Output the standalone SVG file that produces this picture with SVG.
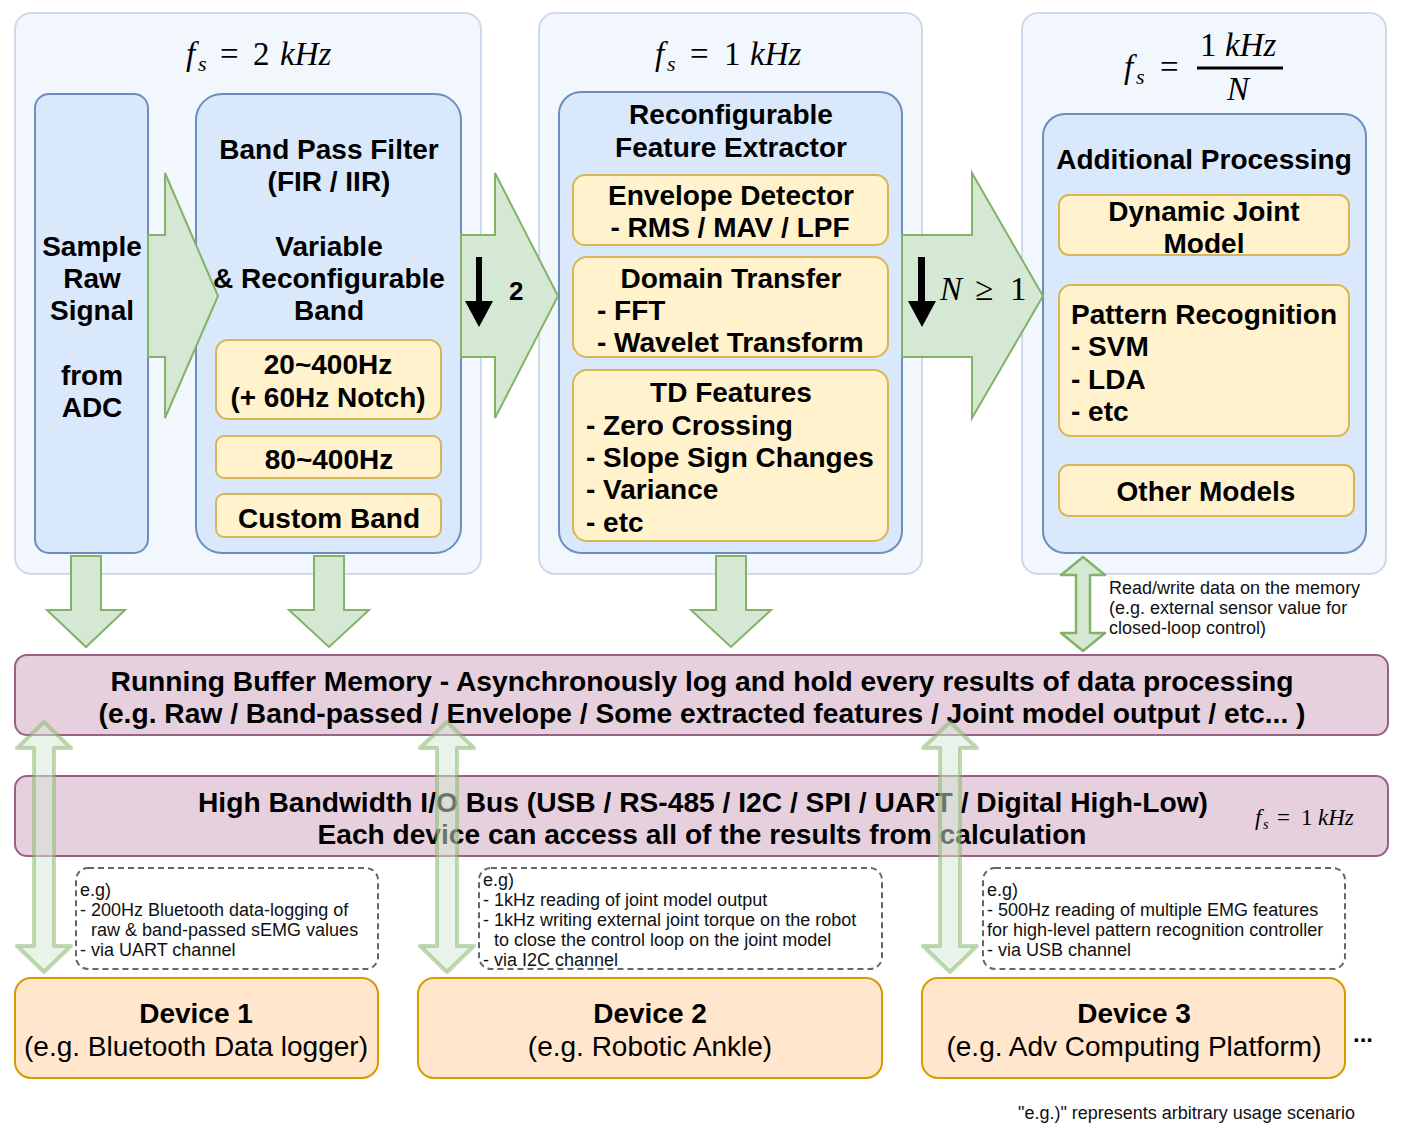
<svg xmlns="http://www.w3.org/2000/svg" width="1401" height="1124" viewBox="0 0 1401 1124">
<style>
.panel{fill:#dae8fc;fill-opacity:.35;stroke:#6c8ebf;stroke-opacity:.3;stroke-width:2}
.blue{fill:#dae8fc;stroke:#6c8ebf;stroke-width:2}
.yel{fill:#fff2cc;stroke:#d6b656;stroke-width:2}
.big{fill:#d5e8d4;stroke:#82b366;stroke-width:2}
.ghost{fill:#d5e8d4;fill-opacity:.5;stroke:#82b366;stroke-opacity:.5;stroke-width:4;stroke-linejoin:round}
.rw{fill:#d5e8d4;stroke:#82b366;stroke-width:2.5;stroke-linejoin:round}
.mem{fill:#e6d0de;stroke:#996185;stroke-width:2}
.dev{fill:#ffe6cc;stroke:#d79b00;stroke-width:2}
.dash{fill:none;stroke:#666;stroke-width:2;stroke-dasharray:6 4}
.b{font-family:"Liberation Sans",Arial,sans-serif;font-weight:bold;font-size:28px;fill:#000}
.r{font-family:"Liberation Sans",Arial,sans-serif;font-size:28px;fill:#000}
.s{font-family:"Liberation Sans",Arial,sans-serif;font-size:18px;fill:#111}
.m{font-family:"Liberation Serif","Times New Roman",serif;font-size:33px;fill:#000}
.i{font-style:italic}
.c{text-anchor:middle}
</style>

<g id="panel-2khz">
<rect class="panel" x="15" y="13" width="466" height="561" rx="16"/>
<text class="m"><tspan class="i" x="186" y="65">f</tspan><tspan class="i" x="198" y="71" style="font-size:22px">s</tspan><tspan x="220" y="65">=</tspan><tspan x="253" y="65">2</tspan><tspan class="i" x="280" y="65">kHz</tspan></text>
</g>
<g id="panel-1khz">
<rect class="panel" x="539" y="13" width="383" height="561" rx="16"/>
<text class="m"><tspan class="i" x="655" y="65">f</tspan><tspan class="i" x="667" y="71" style="font-size:22px">s</tspan><tspan x="690" y="65">=</tspan><tspan x="724" y="65">1</tspan><tspan class="i" x="750" y="65">kHz</tspan></text>
</g>
<g id="panel-n">
<rect class="panel" x="1022" y="13" width="364" height="561" rx="16"/>
<text class="m"><tspan class="i" x="1124" y="78">f</tspan><tspan class="i" x="1136" y="84" style="font-size:22px">s</tspan><tspan x="1160" y="78">=</tspan><tspan x="1200" y="56">1</tspan><tspan class="i" x="1225" y="56">kHz</tspan><tspan class="i" x="1227" y="100">N</tspan></text>
<line x1="1197" y1="68" x2="1283" y2="68" stroke="#000" stroke-width="3"/>
</g>

<g id="sample">
<rect class="blue" x="35" y="94" width="113" height="459" rx="14"/>
<text class="b c"><tspan x="92" y="256">Sample</tspan><tspan x="92" y="288">Raw</tspan><tspan x="92" y="320">Signal</tspan><tspan x="92" y="385">from</tspan><tspan x="92" y="417">ADC</tspan></text>
</g>
<g id="bpf">
<rect class="blue" x="196" y="94" width="265" height="459" rx="26"/>
<text class="b c"><tspan x="329" y="159">Band Pass Filter</tspan><tspan x="329" y="191">(FIR / IIR)</tspan><tspan x="329" y="256">Variable</tspan><tspan x="329" y="288">&amp; Reconfigurable</tspan><tspan x="329" y="320">Band</tspan></text>
</g>
<g id="band-20-400">
<rect class="yel" x="216" y="340" width="225" height="79" rx="12"/>
<text class="b c"><tspan x="328" y="374">20~400Hz</tspan><tspan x="328" y="407">(+ 60Hz Notch)</tspan></text>
</g>
<g id="band-80-400">
<rect class="yel" x="216" y="436" width="225" height="42" rx="8"/>
<text class="b c" x="329" y="469">80~400Hz</text>
</g>
<g id="band-custom">
<rect class="yel" x="216" y="494" width="225" height="43" rx="8"/>
<text class="b c" x="329" y="528">Custom Band</text>
</g>

<g id="feature-extractor">
<rect class="blue" x="559" y="92" width="343" height="461" rx="22"/>
<text class="b c"><tspan x="731" y="124">Reconfigurable</tspan><tspan x="731" y="157">Feature Extractor</tspan></text>
</g>
<g id="envelope">
<rect class="yel" x="573" y="175" width="315" height="70" rx="12"/>
<text class="b c"><tspan x="731" y="205">Envelope Detector</tspan><tspan x="730" y="237">- RMS / MAV / LPF</tspan></text>
</g>
<g id="domain">
<rect class="yel" x="573" y="257" width="315" height="100" rx="14"/>
<text class="b"><tspan class="c" x="731" y="288">Domain Transfer</tspan><tspan x="597" y="320">- FFT</tspan><tspan x="597" y="352">- Wavelet Transform</tspan></text>
</g>
<g id="td">
<rect class="yel" x="573" y="370" width="315" height="171" rx="14"/>
<text class="b"><tspan class="c" x="731" y="402">TD Features</tspan><tspan x="586" y="435">- Zero Crossing</tspan><tspan x="586" y="467">- Slope Sign Changes</tspan><tspan x="586" y="499">- Variance</tspan><tspan x="586" y="532">- etc</tspan></text>
</g>

<g id="additional">
<rect class="blue" x="1043" y="114" width="323" height="439" rx="22"/>
<text class="b c" x="1204" y="169">Additional Processing</text>
</g>
<g id="joint-model">
<rect class="yel" x="1059" y="195" width="290" height="60" rx="10"/>
<text class="b c"><tspan x="1204" y="221">Dynamic Joint</tspan><tspan x="1204" y="253">Model</tspan></text>
</g>
<g id="pattern">
<rect class="yel" x="1059" y="285" width="290" height="151" rx="12"/>
<text class="b"><tspan x="1071" y="324">Pattern Recognition</tspan><tspan x="1071" y="356">- SVM</tspan><tspan x="1071" y="389">- LDA</tspan><tspan x="1071" y="421">- etc</tspan></text>
</g>
<g id="other-models">
<rect class="yel" x="1059" y="465" width="295" height="51" rx="10"/>
<text class="b c" x="1206" y="501">Other Models</text>
</g>

<g id="buffer">
<rect class="mem" x="15" y="655" width="1373" height="80" rx="12"/>
<text class="b c"><tspan x="702" y="691" textLength="1183" lengthAdjust="spacingAndGlyphs">Running Buffer Memory - Asynchronously log and hold every results of data processing</tspan><tspan x="702" y="723" textLength="1207" lengthAdjust="spacingAndGlyphs">(e.g. Raw / Band-passed / Envelope / Some extracted features / Joint model output / etc... )</tspan></text>
</g>
<g id="bus">
<rect class="mem" x="15" y="776" width="1373" height="80" rx="12"/>
<text class="b c"><tspan x="703" y="812" textLength="1010" lengthAdjust="spacingAndGlyphs">High Bandwidth I/O Bus (USB / RS-485 / I2C / SPI / UART / Digital High-Low)</tspan><tspan x="702" y="844" textLength="769" lengthAdjust="spacingAndGlyphs">Each device can access all of the results from calculation</tspan></text>
<text class="m" style="font-size:23px"><tspan class="i" x="1255" y="825">f</tspan><tspan class="i" x="1263" y="829" style="font-size:14px">s</tspan><tspan x="1277" y="825">=</tspan><tspan x="1301" y="825">1</tspan><tspan class="i" x="1318" y="825">kHz</tspan></text>
</g>

<g id="note-1">
<rect class="dash" x="76" y="868" width="302" height="101" rx="12"/>
<text class="s"><tspan x="80" y="896">e.g)</tspan><tspan x="80" y="916">- 200Hz Bluetooth data-logging of</tspan><tspan x="91" y="936">raw &amp; band-passed sEMG values</tspan><tspan x="80" y="956">- via UART channel</tspan></text>
</g>
<g id="note-2">
<rect class="dash" x="479" y="868" width="403" height="101" rx="12"/>
<text class="s"><tspan x="483" y="886">e.g)</tspan><tspan x="483" y="906">- 1kHz reading of joint model output</tspan><tspan x="483" y="926">- 1kHz writing external joint torque on the robot</tspan><tspan x="494" y="946">to close the control loop on the joint model</tspan><tspan x="483" y="966">- via I2C channel</tspan></text>
</g>
<g id="note-3">
<rect class="dash" x="983" y="868" width="362" height="101" rx="12"/>
<text class="s"><tspan x="987" y="896">e.g)</tspan><tspan x="987" y="916">- 500Hz reading of multiple EMG features</tspan><tspan x="987" y="936">for high-level pattern recognition controller</tspan><tspan x="987" y="956">- via USB channel</tspan></text>
</g>

<g id="device-1">
<rect class="dev" x="15" y="978" width="363" height="100" rx="16"/>
<text class="c"><tspan class="b" x="196" y="1023">Device 1</tspan><tspan class="r" x="196" y="1056">(e.g. Bluetooth Data logger)</tspan></text>
</g>
<g id="device-2">
<rect class="dev" x="418" y="978" width="464" height="100" rx="16"/>
<text class="c"><tspan class="b" x="650" y="1023">Device 2</tspan><tspan class="r" x="650" y="1056">(e.g. Robotic Ankle)</tspan></text>
</g>
<g id="device-3">
<rect class="dev" x="922" y="978" width="423" height="100" rx="16"/>
<text class="c"><tspan class="b" x="1134" y="1023">Device 3</tspan><tspan class="r" x="1134" y="1056">(e.g. Adv Computing Platform)</tspan></text>
</g>
<text class="b" x="1353" y="1042" style="font-size:24px">...</text>
<text class="s" x="1018" y="1119">"e.g.)" represents arbitrary usage scenario</text>

<g id="connectors">
<path class="big" d="M148,235 L165,235 L165,173 L218,296 L165,418 L165,357 L148,357 Z"/>
<path class="big" d="M461,235 L495,235 L495,173 L558,296 L495,418 L495,357 L461,357 Z"/>
<path class="big" d="M902,235 L972,235 L972,173 L1043,296 L972,418 L972,357 L902,357 Z"/>
<path d="M476,257 L482,257 L482,301 L493,301 L479,327 L465,301 L476,301 Z" fill="#000"/>
<text class="b" x="509" y="300" style="font-size:26px">2</text>
<path d="M918,257 L925,257 L925,301 L936,301 L922,327 L908,301 L918,301 Z" fill="#000"/>
<text class="m"><tspan class="i" x="940" y="300">N</tspan><tspan x="975" y="300">≥</tspan><tspan x="1010" y="300">1</tspan></text>
<path class="big" d="M71,556 L101,556 L101,610 L125,610 L86,647 L47,610 L71,610 Z"/>
<path class="big" d="M314,556 L344,556 L344,610 L369,610 L329,647 L289,610 L314,610 Z"/>
<path class="big" d="M716,556 L746,556 L746,610 L771,610 L731,647 L691,610 L716,610 Z"/>
<path class="rw" d="M1083,557 L1105,575 L1090,575 L1090,633 L1105,633 L1083,651 L1061,633 L1076,633 L1076,575 L1061,575 Z"/>
<text class="s"><tspan x="1109" y="594">Read/write data on the memory</tspan><tspan x="1109" y="614">(e.g. external sensor value for</tspan><tspan x="1109" y="634">closed-loop control)</tspan></text>
<path class="ghost" d="M44,722 L71,748 L54,748 L54,946 L71,946 L44,972 L17,946 L34,946 L34,748 L17,748 Z"/>
<path class="ghost" d="M447,722 L474,748 L457,748 L457,946 L474,946 L447,972 L420,946 L437,946 L437,748 L420,748 Z"/>
<path class="ghost" d="M950,722 L977,748 L960,748 L960,946 L977,946 L950,972 L923,946 L940,946 L940,748 L923,748 Z"/>
</g>
</svg>
